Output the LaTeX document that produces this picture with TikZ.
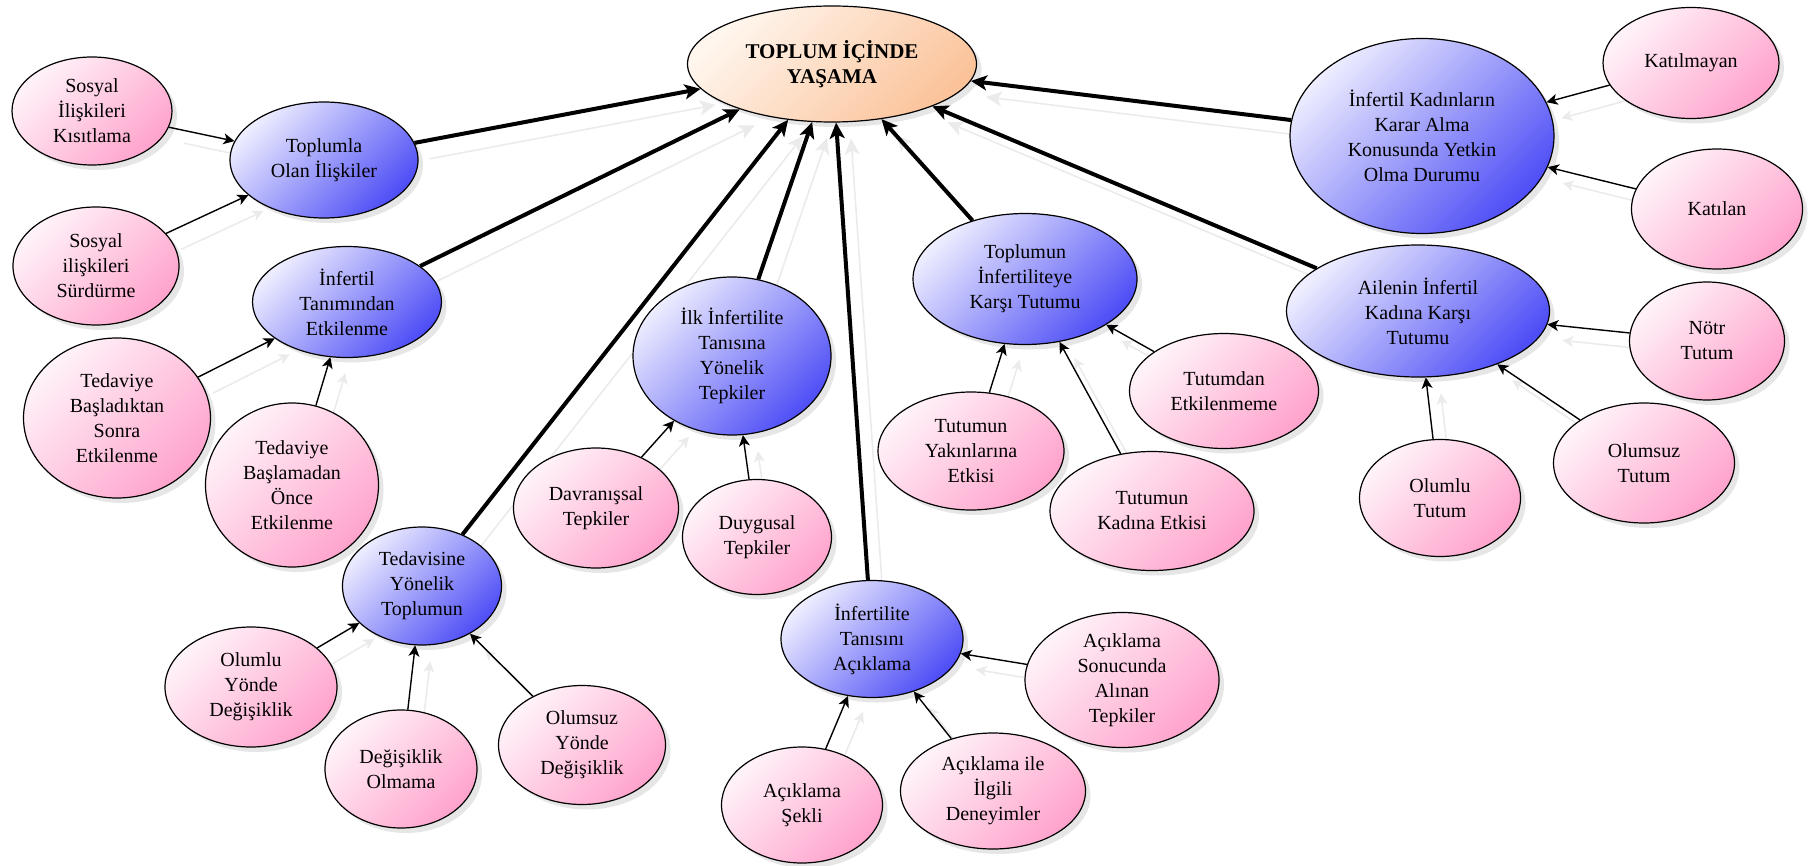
\documentclass[tikz,border=0pt]{standalone}
\usepackage{fontspec}
\setmainfont{Liberation Serif}
\usetikzlibrary{shapes.geometric,arrows.meta,shadows}
\pgfdeclarelayer{bg}
\pgfsetlayers{bg,main}

\definecolor{pinkL}{HTML}{FFF3F9}
\definecolor{pinkD}{HTML}{FFA3CC}
\definecolor{blueL}{HTML}{EDEDFF}
\definecolor{blueD}{HTML}{4E4EF6}
\definecolor{peachL}{HTML}{FFF6EE}
\definecolor{peachD}{HTML}{FBC39A}

\tikzset{
  bub/.style={ellipse, draw=black, line width=0.6pt, inner sep=0pt, align=center,
    font=\fontsize{10}{12.5}\selectfont,
    drop shadow={shadow xshift=2.5pt, shadow yshift=-2.5pt, opacity=0.2}},
  leaf/.style={bub, top color=pinkL, bottom color=pinkD, shading angle=45},
  topic/.style={bub, top color=blueL, bottom color=blueD, shading angle=45},
  core/.style={bub, top color=peachL, bottom color=peachD, shading angle=45,
    font=\fontsize{10.5}{12.5}\selectfont\bfseries},
  sz/.style 2 args={minimum width=#1*0.5pt, minimum height=#2*0.5pt},
  bigarrow/.style={line width=2pt, -{Stealth[length=8pt,width=7.5pt,inset=2pt]}},
  smallarrow/.style={line width=0.7pt, -{Stealth[length=5.5pt,width=5.5pt,inset=1.5pt]}},
  echo/.style={draw=black!8, line width=0.8pt, transform canvas={xshift=7.5pt, yshift=-8pt}},
}

\begin{document}
\begin{tikzpicture}[x=0.5pt, y=-0.5pt]
\useasboundingbox (0,0) rectangle (1818,866);

% central theme
\node[core, sz={289}{116}] (life) at (832,64) {TOPLUM İÇİNDE\\YAŞAMA};

% sub-themes
\node[topic, sz={188}{116}] (rel)  at (324,160)  {Toplumla\\Olan İlişkiler};
\node[topic, sz={189}{111}] (def)  at (347,302)  {İnfertil\\Tanımından\\Etkilenme};
\node[topic, sz={159}{118}] (trt)  at (422,586)  {Tedavisine\\Yönelik\\Toplumun};
\node[topic, sz={198}{158}] (first) at (732,356) {İlk İnfertilite\\Tanısına\\Yönelik\\Tepkiler};
\node[topic, sz={182}{117}] (disc) at (872,639)  {İnfertilite\\Tanısını\\Açıklama};
\node[topic, sz={224}{131}] (soc)  at (1025,279) {Toplumun\\İnfertiliteye\\Karşı Tutumu};
\node[topic, sz={263}{132}] (fam)  at (1418,311) {Ailenin İnfertil\\Kadına Karşı\\Tutumu};
\node[topic, sz={264}{195}] (dec)  at (1422,136) {İnfertil Kadınların\\Karar Alma\\Konusunda Yetkin\\Olma Durumu};

% codes
\node[leaf, sz={160}{108}] (p1)  at (92,111)   {Sosyal\\İlişkileri\\Kısıtlama};
\node[leaf, sz={166}{118}] (p2)  at (96,266)   {Sosyal\\ilişkileri\\Sürdürme};
\node[leaf, sz={187}{160}] (p3)  at (117,418)  {Tedaviye\\Başladıktan\\Sonra\\Etkilenme};
\node[leaf, sz={173}{164}] (p4)  at (292,485)  {Tedaviye\\Başlamadan\\Önce\\Etkilenme};
\node[leaf, sz={172}{120}] (p5)  at (251,687)  {Olumlu\\Yönde\\Değişiklik};
\node[leaf, sz={152}{118}] (p6)  at (401,769)  {Değişiklik\\Olmama};
\node[leaf, sz={167}{119}] (p7)  at (582,745)  {Olumsuz\\Yönde\\Değişiklik};
\node[leaf, sz={165}{120}] (p8)  at (596,508)  {Davranışsal\\Tepkiler};
\node[leaf, sz={149}{115}] (p9)  at (757,537)  {Duygusal\\Tepkiler};
\node[leaf, sz={161}{116}] (p10) at (802,805)  {Açıklama\\Şekli};
\node[leaf, sz={185}{116}] (p11) at (993,791)  {Açıklama ile\\İlgili\\Deneyimler};
\node[leaf, sz={194}{135}] (p12) at (1122,680) {Açıklama\\Sonucunda\\Alınan\\Tepkiler};
\node[leaf, sz={186}{118}] (p13) at (971,451)  {Tutumun\\Yakınlarına\\Etkisi};
\node[leaf, sz={204}{119}] (p14) at (1152,511) {Tutumun\\Kadına Etkisi};
\node[leaf, sz={189}{115}] (p15) at (1224,391) {Tutumdan\\Etkilenmeme};
\node[leaf, sz={161}{117}] (p16) at (1440,498) {Olumlu\\Tutum};
\node[leaf, sz={181}{120}] (p17) at (1644,463) {Olumsuz\\Tutum};
\node[leaf, sz={155}{118}] (p18) at (1707,341) {Nötr\\Tutum};
\node[leaf, sz={176}{111}] (p19) at (1691,63)  {Katılmayan};
\node[leaf, sz={171}{120}] (p20) at (1717,209) {Katılan};

% sub-themes feed the central theme
\foreach \s in {rel,def,trt,first,disc,soc,fam,dec} {
  \begin{pgfonlayer}{bg}
    \draw[bigarrow, echo] (\s) -- (life);
  \end{pgfonlayer}
  \draw[bigarrow] (\s) -- (life);
}

% codes feed their sub-themes
\foreach \s/\t in {p1/rel,p2/rel,p3/def,p4/def,p5/trt,p6/trt,p7/trt,p8/first,p9/first,
                   p10/disc,p11/disc,p12/disc,p13/soc,p14/soc,p15/soc,p16/fam,p17/fam,p18/fam,
                   p19/dec,p20/dec} {
  \begin{pgfonlayer}{bg}
    \draw[smallarrow, echo] (\s) -- (\t);
  \end{pgfonlayer}
  \draw[smallarrow] (\s) -- (\t);
}
\end{tikzpicture}
\end{document}
